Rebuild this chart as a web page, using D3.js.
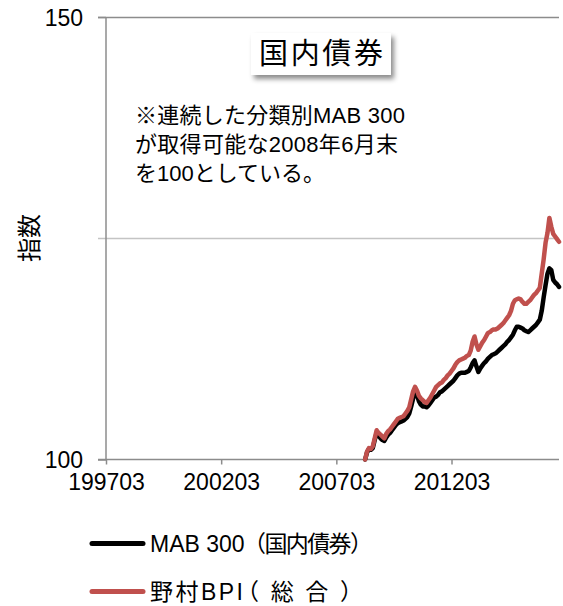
<!DOCTYPE html>
<html><head><meta charset="utf-8">
<script src="https://cdn.jsdelivr.net/npm/d3@7"></script>
<style>
html,body{margin:0;padding:0;background:#fff;}
svg{display:block;}
text{font-family:"Liberation Sans","Noto Sans CJK JP",sans-serif;fill:#000;}
</style></head>
<body>
<script>
// ---- data ----
const axisStart = "199703";           // first category on x axis
const axisEnd = "201611";             // last category on x axis
const seriesStart = "200806";         // first month of both series
const xTickLabels = ["199703", "200203", "200703", "201203"];
const yTickLabels = [100, 150];
const yGridValues = [125, 150];
const seriesNames = [["MAB 300", "（国内債券）"], ["野村BPI", "（総合）"]];
const mab300 = [
100.0,100.8,101.2,101.1,101.3,102.2,103.0,102.7,102.4,102.2,
102.1,102.5,102.8,103.0,103.3,103.6,103.9,104.1,104.2,104.3,
104.4,104.6,104.8,105.2,106.0,106.9,107.6,107.3,106.6,106.2,
106.0,106.0,105.9,106.1,106.4,106.7,107.0,107.1,107.3,107.6,
107.7,107.9,108.1,108.3,108.5,108.7,108.9,109.2,109.5,109.7,
109.8,109.8,109.8,109.9,110.0,110.4,110.9,111.2,110.5,109.9,
110.3,110.6,110.9,111.1,111.4,111.6,111.8,111.9,112.0,112.2,
112.4,112.6,112.8,113.0,113.3,113.5,113.8,114.1,114.6,115.0,
115.0,114.9,114.8,114.6,114.5,114.4,114.6,114.8,115.0,115.2,
115.5,115.8,116.8,118.3,119.7,121.0,121.6,121.4,120.3,120.0,
119.8,119.5];
const nomuraBPI = [
100.0,100.9,101.3,101.2,101.5,102.4,103.3,103.0,102.8,102.6,
102.4,102.9,103.2,103.4,103.7,104.0,104.3,104.6,104.7,104.8,
104.9,105.2,105.5,105.9,106.8,107.7,108.2,107.8,107.2,106.9,
106.7,106.5,106.4,106.7,107.0,107.4,107.8,108.2,108.4,108.6,
108.7,109.0,109.2,109.5,109.7,110.0,110.3,110.7,111.0,111.2,
111.3,111.4,111.5,111.7,111.8,112.3,113.3,113.9,113.0,112.4,
112.8,113.2,113.5,113.9,114.3,114.4,114.6,114.7,114.7,114.8,
115.0,115.2,115.4,115.7,116.0,116.3,116.8,117.6,118.0,118.1,
118.2,118.1,117.8,117.6,117.6,117.8,118.0,118.3,118.6,118.8,
119.1,119.4,121.0,122.6,124.5,125.6,127.3,126.3,125.5,125.2,
124.9,124.6];
const seriesColors = ["#000000", "#c0504d"];

// ---- helpers ----
const mIdx = s => (+s.slice(0,4)) * 12 + (+s.slice(4,6)) - 1;
const base = mIdx(axisStart);

const W = 563, H = 606;
const svg = d3.select("body").append("svg").attr("width", W).attr("height", H);

const defs = svg.append("defs");
const f = defs.append("filter").attr("id","shadow").attr("x","-20%").attr("y","-30%").attr("width","150%").attr("height","170%");
f.append("feDropShadow").attr("dx",3).attr("dy",4).attr("stdDeviation",2.5).attr("flood-color","#000").attr("flood-opacity",0.45);

const x = d3.scaleLinear().domain([0, mIdx(axisEnd) - base]).range([106, 559]);
const y = d3.scaleLinear().domain([100, 150]).range([459.5, 17]);

// gridlines
svg.append("g").selectAll("line").data(yGridValues).join("line")
  .attr("x1", 98).attr("x2", 559)
  .attr("y1", d => Math.round(y(d)) + 0.5).attr("y2", d => Math.round(y(d)) + 0.5)
  .attr("stroke", d => d === 150 ? "#8c8c8c" : "#c4c4c4").attr("stroke-width", 1.3);

// y axis
const yAxis = d3.axisLeft(y).tickValues(yTickLabels).tickSize(8).tickPadding(15).tickFormat(d3.format("d"));
const gy = svg.append("g").attr("transform","translate(106,0)").call(yAxis);
gy.select(".domain").attr("stroke","#8c8c8c").attr("stroke-width",1.5).attr("d","M0,17V459.5");
gy.selectAll(".tick line").attr("stroke","#8c8c8c").attr("stroke-width",1.5);
gy.selectAll(".tick text").attr("font-size",23).attr("dy","0.36em").style("font-family","Liberation Sans");

// x axis
const xAxis = d3.axisBottom(x).tickValues(xTickLabels.map(s => mIdx(s) - base))
  .tickSize(5).tickPadding(9).tickFormat((d,i) => xTickLabels[i]);
const gx = svg.append("g").attr("transform","translate(0,459.5)").call(xAxis);
gx.select(".domain").attr("stroke","#8c8c8c").attr("stroke-width",1.5).attr("d","M98,0H559");
gx.selectAll(".tick line").attr("stroke","#8c8c8c").attr("stroke-width",1.5);
gx.selectAll(".tick text").attr("font-size",23).style("font-family","Liberation Sans");

// y axis title
svg.append("text").attr("transform","translate(38,238) rotate(-90)")
  .attr("text-anchor","middle").attr("font-size",24).text("指数");

// lines
const s0 = mIdx(seriesStart) - base;
const line = d3.line().x((d,i) => x(s0 + i)).y(d => y(d)).curve(d3.curveLinear);
[mab300, nomuraBPI].forEach((vals, k) => {
  svg.append("path").datum(vals).attr("d", line)
    .attr("fill","none").attr("stroke", seriesColors[k]).attr("stroke-width",4.5)
    .attr("stroke-linejoin","round").attr("stroke-linecap","round");
});

// title box
svg.append("rect").attr("x",251).attr("y",33).attr("width",140).attr("height",42)
  .attr("fill","#fff").attr("filter","url(#shadow)");
svg.append("text").attr("x",259).attr("y",63.5).attr("font-size",29)
  .attr("textLength",124).attr("lengthAdjust","spacing").text("国内債券");

// note
const noteLines = ["※連続した分類別MAB 300", "が取得可能な2008年6月末", "を100としている。"];
const noteWidths = [270, 263, null];
noteLines.forEach((t,i) => {
  const tx = svg.append("text").attr("x",135).attr("y",123 + i*29).attr("font-size",22).text(t);
  if (noteWidths[i]) tx.attr("textLength",noteWidths[i]).attr("lengthAdjust","spacing");
});

// legend
const legA = [null, 93];
const legBx = [243, 236];
const legB = [130, 127];
seriesNames.forEach((n,i) => {
  const ly = 543.5 + i*48;
  svg.append("line").attr("x1",92).attr("x2",143).attr("y1",ly).attr("y2",ly)
    .attr("stroke",seriesColors[i]).attr("stroke-width",5).attr("stroke-linecap","round");
  const ta = svg.append("text").attr("x",150).attr("y",ly+8).attr("font-size",23).text(n[0]);
  if (legA[i]) ta.attr("textLength",legA[i]).attr("lengthAdjust","spacing");
  svg.append("text").attr("x",legBx[i]).attr("y",ly+8).attr("font-size",23)
    .attr("textLength",legB[i]).attr("lengthAdjust","spacing").text(n[1]);
});
</script>
</body></html>
